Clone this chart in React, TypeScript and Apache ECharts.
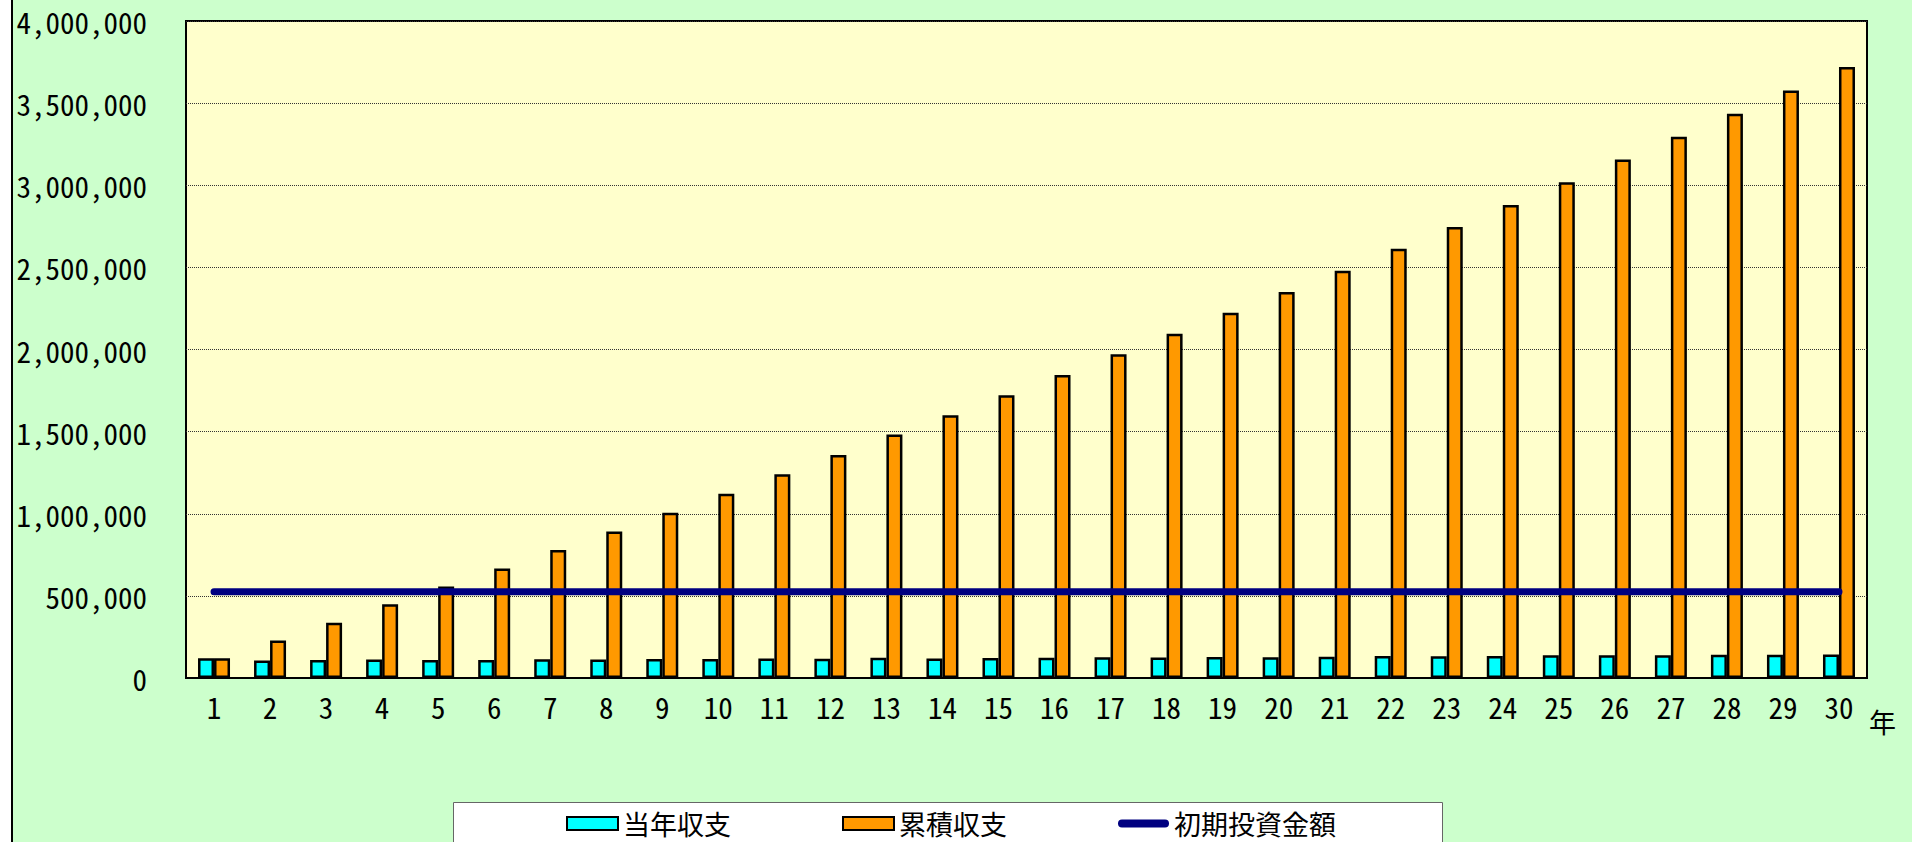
import React, { useEffect, useRef } from "react";
import * as echarts from "echarts";

const years = ["1","2","3","4","5","6","7","8","9","10","11","12","13","14","15","16","17","18","19","20","21","22","23","24","25","26","27","28","29","30"];

const annualBalance = [
  120000, 106000, 109000, 112000, 110000, 110000, 114000, 112000, 115000, 116000,
  118000, 117000, 124000, 118000, 122000, 124000, 126000, 125000, 128000, 127000,
  130000, 134000, 132000, 134000, 138000, 138000, 139000, 141000, 142000, 143000,
];

const cumulativeBalance = [
  120000, 228000, 337000, 449000, 557000, 667000, 780000, 892000, 1006000, 1122000,
  1241000, 1357000, 1482000, 1599000, 1721000, 1845000, 1971000, 2096000, 2224000, 2350000,
  2480000, 2614000, 2746000, 2880000, 3018000, 3157000, 3295000, 3435000, 3577000, 3720000,
];

const initialInvestment = [
  525000, 525000, 525000, 525000, 525000, 525000, 525000, 525000, 525000, 525000,
  525000, 525000, 525000, 525000, 525000, 525000, 525000, 525000, 525000, 525000,
  525000, 525000, 525000, 525000, 525000, 525000, 525000, 525000, 525000, 525000,
];

const seriesNames = ["当年収支", "累積収支", "初期投資金額"];
const xAxisName = "年";

export default function App() {
  const ref = useRef<HTMLDivElement>(null);

  useEffect(() => {
    const chart = echarts.init(ref.current!, null, { renderer: "svg" });
    const numFont = "'Noto Sans Mono CJK JP', 'Liberation Mono', monospace";
    const cjkFont = "'Noto Sans CJK JP', sans-serif";

    chart.setOption({
      animation: false,
      backgroundColor: "#CCFFCC",
      graphic: [
        { type: "rect", z: 1, shape: { x: 0, y: 0, width: 11, height: 842 }, style: { fill: "#FFFFFF" } },
        { type: "line", z: 1, shape: { x1: 12, y1: 0, x2: 12, y2: 842 }, style: { stroke: "#000000", lineWidth: 2 } },
        { type: "rect", z: 1, shape: { x: 453.5, y: 802.5, width: 989, height: 60 }, style: { fill: "#FFFFFF", stroke: "#666666", lineWidth: 1 } },
      ],
      grid: {
        left: 186,
        right: 45,
        top: 21,
        bottom: 164,
        show: true,
        backgroundColor: "#FFFFCC",
        borderColor: "#000000",
        borderWidth: 2,
      },
      legend: {
        left: 566,
        top: 810,
        padding: 0,
        z: 10,
        itemWidth: 51,
        itemHeight: 13,
        itemGap: 111,
        textStyle: { fontSize: 27, fontFamily: cjkFont, color: "#000000" },
        data: [
          { name: seriesNames[0], icon: "rect" },
          { name: seriesNames[1], icon: "rect" },
          {
            name: seriesNames[2],
            icon: "path://M4,0L47,0A4,4,0,0,1,47,8L4,8A4,4,0,0,1,4,0Z",
            itemStyle: { color: "#000080", borderWidth: 0 },
          },
        ],
      },
      xAxis: {
        type: "category",
        data: years,
        boundaryGap: true,
        name: xAxisName,
        nameLocation: "end",
        nameGap: 2,
        nameTextStyle: {
          fontSize: 27,
          fontFamily: cjkFont,
          color: "#000000",
          align: "left",
          verticalAlign: "top",
          padding: [30, 0, 0, 0],
        },
        axisLine: { lineStyle: { color: "#000000", width: 2 } },
        axisTick: { inside: true, length: 6, lineStyle: { color: "#000000", width: 1 } },
        axisLabel: { color: "#000000", fontSize: 29, fontFamily: numFont, margin: 13 },
        splitLine: { show: false },
      },
      yAxis: {
        type: "value",
        min: 0,
        max: 4000000,
        interval: 500000,
        axisLine: { show: false },
        axisTick: { show: false },
        axisLabel: {
          color: "#000000",
          fontSize: 29,
          fontFamily: numFont,
          margin: 39,
          padding: [0, 0, 5, 0],
          formatter: (v: number) => v.toLocaleString("en-US"),
        },
        splitLine: { lineStyle: { color: "#333333", type: "dotted", width: 1 } },
      },
      series: [
        {
          name: seriesNames[0],
          type: "bar",
          data: annualBalance,
          barWidth: 16,
          barGap: "0%",
          itemStyle: { color: "#00FFFF", borderColor: "#000000", borderWidth: 2.5 },
        },
        {
          name: seriesNames[1],
          type: "bar",
          data: cumulativeBalance,
          barWidth: 16,
          barGap: "0%",
          itemStyle: { color: "#FF9900", borderColor: "#000000", borderWidth: 2.5 },
        },
        {
          name: seriesNames[2],
          type: "line",
          data: initialInvestment,
          symbol: "none",
          z: 5,
          itemStyle: { color: "#000080" },
          lineStyle: { color: "#000080", width: 7, cap: "round" },
        },
      ],
    });

    return () => chart.dispose();
  }, []);

  return (
    <div
      ref={ref}
      style={{ position: "absolute", left: 0, top: 0, width: 1912, height: 842 }}
    />
  );
}
